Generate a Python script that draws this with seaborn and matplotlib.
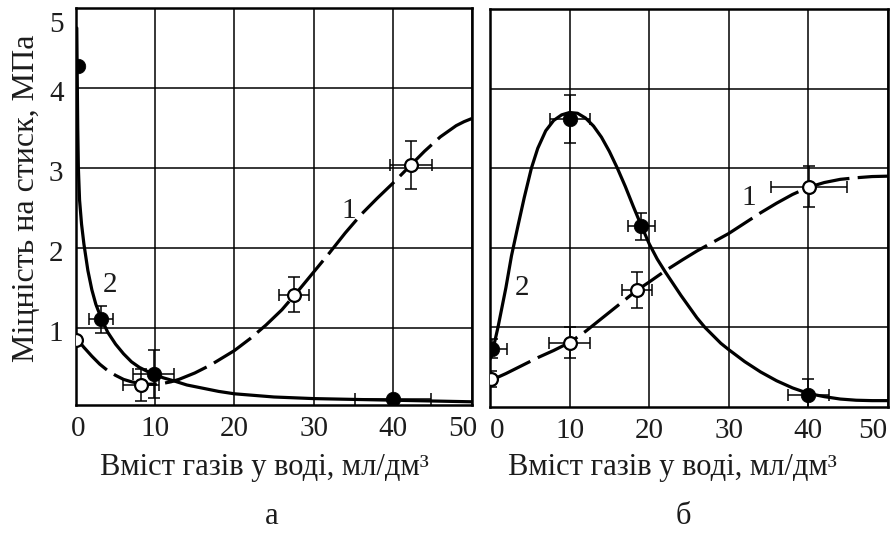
import matplotlib
matplotlib.use("Agg")
import matplotlib.pyplot as plt
import matplotlib.transforms as mtrans
import seaborn as sns

# ---------------- data ----------------
# panel а : curve 1 (open circles, dashed line)
a1_curve_x = [0, 1, 2, 3, 4, 5, 6, 7, 8, 9, 10, 11, 12, 13, 14, 15, 16, 17, 18, 19, 20, 22, 24, 26, 28, 30,
              32, 34, 36, 38, 40, 42, 44, 45, 46, 47, 48, 49, 50]
a1_curve_y = [0.88, 0.76, 0.65, 0.55, 0.47, 0.41, 0.36, 0.33, 0.31, 0.30, 0.30, 0.31, 0.33, 0.36, 0.40, 0.44,
              0.49, 0.54, 0.60, 0.66, 0.72, 0.87, 1.04, 1.23, 1.46, 1.70, 1.94, 2.19, 2.42, 2.62, 2.81, 3.01,
              3.21, 3.30, 3.39, 3.46, 3.53, 3.58, 3.62]
a1_pts_x = [0, 8.2, 27.5, 42.3]
a1_pts_y = [0.85, 0.29, 1.42, 3.04]
a1_xerr = [0, 2.3, 1.9, 2.7]
a1_yerr = [0, 0.2, 0.22, 0.3]

# panel а : curve 2 (filled circles, solid line)
a2_curve_x = [0.1, 0.15, 0.22, 0.3, 0.45, 0.7, 1.0, 1.5, 2.0, 2.5, 3.2, 4, 5, 6, 7, 8, 9, 10, 11, 12.4, 14,
              16, 18, 20, 25, 30, 35, 40, 45, 50]
a2_curve_y = [4.75, 4.2, 3.5, 3.0, 2.6, 2.3, 2.05, 1.72, 1.48, 1.30, 1.12, 0.95, 0.80, 0.68, 0.58, 0.51, 0.46,
              0.42, 0.38, 0.34, 0.29, 0.25, 0.21, 0.18, 0.14, 0.12, 0.11, 0.10, 0.09, 0.08]
a2_pts_x = [0.3, 3.2, 9.8, 40.0]
a2_pts_y = [4.27, 1.11, 0.43, 0.11]
a2_xerr = [0, 1.5, 2.6, 4.8]
a2_yerr = [0, 0.17, 0.3, 0]

# panel б : curve 1 (open circles, dashed line)
b1_curve_x = [0, 2, 4, 6, 8, 10, 12, 14, 16, 18.5, 20, 22, 24.2, 26, 28, 30, 32, 34, 36, 38, 40, 42, 44, 46, 48, 50]
b1_curve_y = [0.33, 0.42, 0.52, 0.62, 0.71, 0.81, 0.95, 1.11, 1.27, 1.47, 1.57, 1.71, 1.85, 1.96, 2.07, 2.18,
              2.31, 2.44, 2.56, 2.67, 2.76, 2.82, 2.86, 2.88, 2.895, 2.90]
b1_pts_x = [0.1, 10.0, 18.5, 40.1]
b1_pts_y = [0.35, 0.81, 1.47, 2.77]
b1_xerr = [0, 2.6, 1.9, 4.8]
b1_yerr = [0.1, 0.2, 0.23, 0.26]

# panel б : curve 2 (filled circles, solid line)
b2_curve_x = [0, 0.5, 1.0, 1.5, 2.0, 2.7, 3.5, 4.3, 5.2, 6, 7, 8, 9, 10, 11, 12, 13, 14, 15, 16, 17, 18, 19,
              20, 21, 22, 23, 24, 25, 26, 27, 28, 29, 30, 32, 34, 36, 38, 40, 42, 44, 46, 48, 50]
b2_curve_y = [0.6, 0.78, 1.0, 1.25, 1.5, 1.9, 2.27, 2.63, 3.0, 3.25, 3.47, 3.6, 3.67, 3.7, 3.69, 3.63, 3.53,
              3.39, 3.21, 3.0, 2.77, 2.52, 2.28, 2.05, 1.86, 1.70, 1.55, 1.40, 1.26, 1.12, 1.0, 0.9, 0.8, 0.72,
              0.57, 0.44, 0.33, 0.24, 0.17, 0.13, 0.10, 0.085, 0.08, 0.08]
b2_pts_x = [0.2, 10.1, 19.0, 40.0]
b2_pts_y = [0.73, 3.62, 2.27, 0.15]
b2_xerr = [1.9, 2.5, 1.7, 2.6]
b2_yerr = [0.12, 0.3, 0.17, 0.2]

x_ticks = [0, 10, 20, 30, 40, 50]
y_ticks = [1, 2, 3, 4, 5]
x_label = "Вміст газів у воді, мл/дм³"
y_label = "Міцність на стиск, МПа"
panel_labels = ["а", "б"]
a_lab = {"1": (34.4, 2.46), "2": (4.3, 1.54)}
b_lab = {"1": (32.5, 2.62), "2": (4.0, 1.5)}

# ---------------- style ----------------
sns.set_theme(style="white")
plt.rcParams["font.family"] = ["Liberation Serif", "DejaVu Serif"]

FS = 21
TXT = "#1c1c1c"
fig = plt.figure(figsize=(8.92, 5.45), dpi=100)
fig.patch.set_facecolor("white")

axA = fig.add_axes([76 / 892, 1 - 405 / 545, 396 / 892, 397 / 545])
axB = fig.add_axes([490 / 892, 1 - 407 / 545, 398 / 892, 398 / 545])


def shift(label, dx_px, dy_px):
    label.set_transform(label.get_transform() +
                        mtrans.ScaledTranslation(dx_px / 100, dy_px / 100, fig.dpi_scale_trans))


def draw(ax, c1x, c1y, p1x, p1y, x1e, y1e, c2x, c2y, p2x, p2y, x2e, y2e, ylim, labs):
    ax.set_facecolor("white")
    sns.lineplot(x=c1x, y=c1y, ax=ax, color="black", lw=2.3, zorder=3)
    ax.lines[-1].set_dashes((14, 2.6))
    sns.lineplot(x=c2x, y=c2y, ax=ax, color="black", lw=2.3, zorder=3)
    ax.errorbar(p1x, p1y, xerr=x1e, yerr=y1e, fmt="none", ecolor="black",
                elinewidth=1.1, capsize=4.3, capthick=1.1, zorder=4)
    ax.errorbar(p2x, p2y, xerr=x2e, yerr=y2e, fmt="none", ecolor="black",
                elinewidth=1.1, capsize=4.3, capthick=1.1, zorder=4)
    sns.scatterplot(x=p1x, y=p1y, ax=ax, s=85, marker="o", facecolor="white",
                    edgecolor="black", linewidth=1.6, zorder=5)
    sns.scatterplot(x=p2x, y=p2y, ax=ax, s=110, marker="o", color="black",
                    edgecolor="black", linewidth=0.5, zorder=5)
    for k, (lx, ly) in labs.items():
        ax.text(lx, ly, k, fontsize=FS, ha="center", va="center", color=TXT, zorder=6)
    ax.set_xlim(0, 50)
    ax.set_ylim(*ylim)
    ax.set_xticks(x_ticks)
    ax.set_yticks(y_ticks)
    ax.grid(True, color="black", lw=1.1)
    ax.set_axisbelow(True)
    for s in ax.spines.values():
        s.set_color("black")
        s.set_linewidth(1.8)
        s.set_visible(True)
    ax.tick_params(axis="x", length=0, pad=8, labelsize=FS, colors=TXT)
    ax.tick_params(axis="y", direction="in", length=6, width=1.2, pad=9,
                   labelsize=FS, colors=TXT)


draw(axA, a1_curve_x, a1_curve_y, a1_pts_x, a1_pts_y, a1_xerr, a1_yerr,
     a2_curve_x, a2_curve_y, a2_pts_x, a2_pts_y, a2_xerr, a2_yerr, (0.04, 5.0), a_lab)
draw(axB, b1_curve_x, b1_curve_y, b1_pts_x, b1_pts_y, b1_xerr, b1_yerr,
     b2_curve_x, b2_curve_y, b2_pts_x, b2_pts_y, b2_xerr, b2_yerr, (0.0, 5.0), b_lab)

axA.set_yticks([0.5, 3.5], minor=True)
axA.tick_params(axis="y", which="minor", direction="in", length=6, width=1.2)
axB.tick_params(axis="y", labelleft=False, length=0)

# nudge end tick labels as in the original
xa = axA.get_xticklabels()
shift(xa[0], 2, 0)
shift(xa[-1], -9, 0)
xb = axB.get_xticklabels()
shift(xb[0], 7, 0)
shift(xb[-1], -15, 0)
ya = axA.get_yticklabels()
for lab in ya[:-1]:
    shift(lab, 0, -3)
shift(ya[-1], 0, -14)

# axis titles and panel letters
fig.text(264 / 892, 1 - 468 / 545, x_label, fontsize=22, ha="center", va="center", color=TXT)
fig.text(672 / 892, 1 - 468 / 545, x_label, fontsize=22, ha="center", va="center", color=TXT)
fig.text(27 / 892, 1 - 198 / 545, y_label, fontsize=23, ha="center", va="center",
         rotation=90, color=TXT)
fig.text(272 / 892, 1 - 517 / 545, panel_labels[0], fontsize=22, ha="center", va="center", color=TXT)
fig.text(683 / 892, 1 - 517 / 545, panel_labels[1], fontsize=22, ha="center", va="center", color=TXT)

fig.savefig("out.png", dpi=100, facecolor="white")
